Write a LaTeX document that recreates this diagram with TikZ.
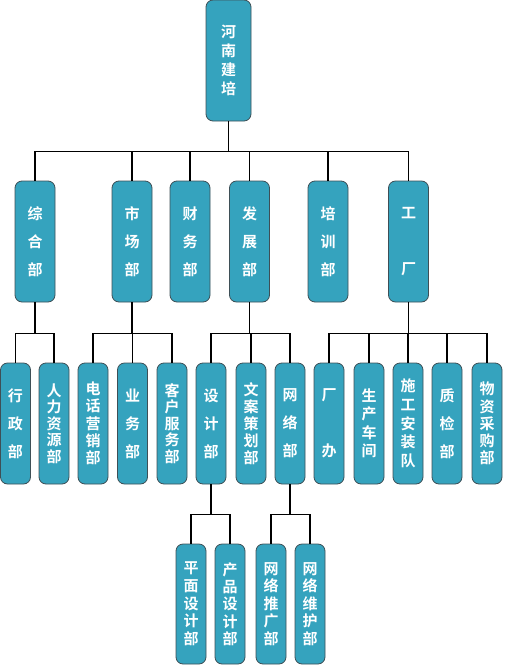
\documentclass[tikz,border=0pt]{standalone}
\usepackage{fontspec}
\newfontfamily\cjk{Noto Sans CJK SC}[BoldFont={Noto Sans CJK SC Bold}]
\definecolor{boxfill}{HTML}{35A3BE}
\definecolor{boxline}{HTML}{3E4F56}
\tikzset{
  org/.style={draw=boxline, fill=boxfill, rounded corners=7pt, line width=0.8pt,
    text=white, inner sep=0pt, align=center,
    font=\cjk\bfseries\fontsize{15}{#1}\selectfont},
  org/.default=28,
  topbox/.style={org=19, minimum width=45pt, minimum height=121pt},
  midbox/.style={org, minimum width=40pt, minimum height=121pt},
  lowbox/.style={org=#1, minimum width=30pt, minimum height=121pt},
  lowbox/.default=28,
  link/.style={line width=1.3pt, black}
}
\begin{document}
\begin{tikzpicture}[x=1pt, y=-1pt]
    \useasboundingbox (0,0) rectangle (504,667);

    % Top
    \node[topbox] (root) at (228.5,60.5) {河\\南\\建\\培};

    % Departments
    \node[midbox] (zh) at (35,241.5) {综\\合\\部};
    \node[midbox] (sc) at (132,241.5) {市\\场\\部};
    \node[midbox] (cw) at (190,241.5) {财\\务\\部};
    \node[midbox] (fz) at (249.5,241.5) {发\\展\\部};
    \node[midbox] (px) at (328,241.5) {培\\训\\部};
    \node[midbox] (gc) at (408.5,241.5) {工\\~\\厂};

    % Sections
    \node[lowbox] (xz) at (15.5,423.5) {行\\政\\部};
    \node[lowbox=16.5] (rl) at (54,423.5) {人\\力\\资\\源\\部};
    \node[lowbox=17.25] (dh) at (93,423.5) {电\\话\\营\\销\\部};
    \node[lowbox] (yw) at (132.5,423.5) {业\\务\\部};
    \node[lowbox=16.5] (kh) at (172,423.5) {客\\户\\服\\务\\部};
    \node[lowbox] (sj) at (211,423.5) {设\\计\\部};
    \node[lowbox=17] (wa) at (251,423.5) {文\\案\\策\\划\\部};
    \node[lowbox] (wl) at (290,423.5) {网\\络\\部};
    \node[lowbox] (cb) at (329,423.5) {厂\\~\\办};
    \node[lowbox=18.5] (scj) at (369,423.5) {生\\产\\车\\间};
    \node[lowbox=18.7] (sg) at (408,423.5) {施\\工\\安\\装\\队};
    \node[lowbox] (zj) at (447,423.5) {质\\检\\部};
    \node[lowbox=17.2] (wz) at (487,423.5) {物\\资\\采\\购\\部};

    % Groups under design and network
    \node[lowbox=17.7, minimum height=120pt] (pm) at (191,604) {平\\面\\设\\计\\部};
    \node[lowbox=17.3, minimum height=120pt] (cp) at (230,604) {产\\品\\设\\计\\部};
    \node[lowbox=17.5, minimum height=120pt] (tg) at (271,604) {网\\络\\推\\广\\部};
    \node[lowbox=17.5, minimum height=120pt] (wh) at (310,604) {网\\络\\维\\护\\部};

    % Connectors
    \foreach \c in {zh,sc,cw,fz,px,gc}
        \draw[link] (root.south) -- ++(0,30) -| (\c.north);
    \foreach \c in {xz,rl}
        \draw[link] (zh.south) -- ++(0,31) -| (\c.north);
    \foreach \c in {dh,yw,kh}
        \draw[link] (sc.south) -- ++(0,31) -| (\c.north);
    \foreach \c in {sj,wa,wl}
        \draw[link] (fz.south) -- ++(0,31) -| (\c.north);
    \foreach \c in {cb,scj,sg,zj,wz}
        \draw[link] (gc.south) -- ++(0,31) -| (\c.north);
    \foreach \c in {pm,cp}
        \draw[link] (sj.south) -- ++(0,30) -| (\c.north);
    \foreach \c in {tg,wh}
        \draw[link] (wl.south) -- ++(0,30) -| (\c.north);
\end{tikzpicture}
\end{document}
